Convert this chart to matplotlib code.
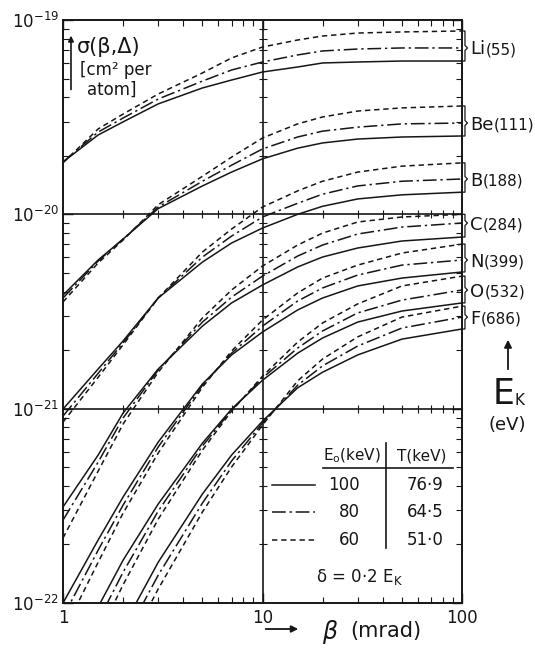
import matplotlib
matplotlib.use("Agg")
import matplotlib.pyplot as plt
from matplotlib.ticker import LogLocator, FixedLocator, FixedFormatter, NullFormatter, LogFormatterSciNotation

# ---------------- data ----------------
beta = [1, 1.5, 2, 3, 5, 7, 10, 15, 20, 30, 50, 100]          # mrad

elements = ["Li", "Be", "B", "C", "N", "O", "F"]
edge_ev = [55, 111, 188, 284, 399, 532, 686]

e0_kev = ["100", "80", "60"]
t_kev = ["76·9", "64·5", "51·0"]

# sigma(beta, Delta) in cm^2 per atom; suffix = incident energy E0 (keV)
li_100 = [1.86e-20, 2.56e-20, 2.99e-20, 3.70e-20, 4.47e-20, 4.91e-20, 5.40e-20, 5.73e-20, 6.01e-20, 6.08e-20, 6.15e-20, 6.15e-20]
li_80 = [1.86e-20, 2.65e-20, 3.13e-20, 3.92e-20, 4.85e-20, 5.53e-20, 6.08e-20, 6.61e-20, 6.93e-20, 7.09e-20, 7.18e-20, 7.18e-20]
li_60 = [1.84e-20, 2.75e-20, 3.28e-20, 4.16e-20, 5.34e-20, 6.38e-20, 7.26e-20, 7.89e-20, 8.27e-20, 8.57e-20, 8.68e-20, 8.78e-20]

be_100 = [3.84e-21, 5.82e-21, 7.46e-21, 1.07e-20, 1.40e-20, 1.65e-20, 1.93e-20, 2.19e-20, 2.33e-20, 2.44e-20, 2.50e-20, 2.53e-20]
be_80 = [3.71e-21, 5.75e-21, 7.46e-21, 1.09e-20, 1.48e-20, 1.79e-20, 2.17e-20, 2.50e-20, 2.68e-20, 2.81e-20, 2.92e-20, 2.95e-20]
be_60 = [3.54e-21, 5.62e-21, 7.37e-21, 1.12e-20, 1.57e-20, 1.97e-20, 2.47e-20, 2.92e-20, 3.17e-20, 3.40e-20, 3.53e-20, 3.61e-20]

b_100 = [9.95e-22, 1.60e-21, 2.23e-21, 3.71e-21, 5.68e-21, 7.12e-21, 8.50e-21, 1.00e-20, 1.10e-20, 1.20e-20, 1.26e-20, 1.30e-20]
b_80 = [9.16e-22, 1.52e-21, 2.18e-21, 3.71e-21, 6.03e-21, 7.73e-21, 9.69e-21, 1.14e-20, 1.27e-20, 1.40e-20, 1.48e-20, 1.52e-20]
b_60 = [8.53e-22, 1.45e-21, 2.13e-21, 3.71e-21, 6.40e-21, 8.40e-21, 1.09e-20, 1.32e-20, 1.48e-20, 1.65e-20, 1.77e-20, 1.84e-20]

c_100 = [3.12e-22, 5.77e-22, 9.49e-22, 1.60e-21, 2.66e-21, 3.50e-21, 4.33e-21, 5.36e-21, 6.03e-21, 6.71e-21, 7.29e-21, 7.64e-21]
c_80 = [2.67e-22, 5.31e-22, 8.95e-22, 1.58e-21, 2.79e-21, 3.75e-21, 4.81e-21, 6.10e-21, 6.95e-21, 7.92e-21, 8.60e-21, 9.02e-21]
c_60 = [2.16e-22, 4.77e-22, 8.33e-22, 1.54e-21, 2.93e-21, 4.08e-21, 5.42e-21, 6.95e-21, 8.01e-21, 9.13e-21, 9.69e-21, 1.00e-20]

n_100 = [1.00e-22, 2.11e-22, 3.51e-22, 6.73e-22, 1.34e-21, 1.89e-21, 2.48e-21, 3.22e-21, 3.71e-21, 4.28e-21, 4.70e-21, 5.05e-21]
n_80 = [8.47e-23, 1.87e-22, 3.19e-22, 6.35e-22, 1.32e-21, 1.93e-21, 2.66e-21, 3.58e-21, 4.18e-21, 4.87e-21, 5.48e-21, 5.82e-21]
n_60 = [7.01e-23, 1.62e-22, 2.90e-22, 5.91e-22, 1.29e-21, 1.98e-21, 2.86e-21, 3.94e-21, 4.70e-21, 5.48e-21, 6.32e-21, 7.03e-21]

o_100 = [4.02e-23, 9.54e-23, 1.66e-22, 3.23e-22, 6.65e-22, 9.95e-22, 1.40e-21, 1.93e-21, 2.31e-21, 2.79e-21, 3.18e-21, 3.50e-21]
o_80 = [3.40e-23, 8.08e-23, 1.44e-22, 2.97e-22, 6.42e-22, 9.84e-22, 1.44e-21, 2.05e-21, 2.51e-21, 3.11e-21, 3.62e-21, 4.08e-21]
o_60 = [2.75e-23, 6.76e-23, 1.24e-22, 2.70e-22, 6.12e-22, 9.72e-22, 1.47e-21, 2.20e-21, 2.76e-21, 3.46e-21, 4.28e-21, 4.81e-21]

f_100 = [1.52e-23, 3.92e-23, 7.52e-23, 1.62e-22, 3.64e-22, 5.77e-22, 8.63e-22, 1.28e-21, 1.54e-21, 1.89e-21, 2.28e-21, 2.57e-21]
f_80 = [1.26e-23, 3.28e-23, 6.38e-23, 1.39e-22, 3.27e-22, 5.38e-22, 8.43e-22, 1.32e-21, 1.66e-21, 2.10e-21, 2.60e-21, 2.96e-21]
f_60 = [1.03e-23, 2.72e-23, 5.34e-23, 1.18e-22, 2.94e-22, 5.01e-22, 8.23e-22, 1.39e-21, 1.80e-21, 2.34e-21, 2.96e-21, 3.37e-21]

series = {
    "Li": (li_100, li_80, li_60),
    "Be": (be_100, be_80, be_60),
    "B": (b_100, b_80, b_60),
    "C": (c_100, c_80, c_60),
    "N": (n_100, n_80, n_60),
    "O": (o_100, o_80, o_60),
    "F": (f_100, f_80, f_60),
}

# ---------------- style ----------------
ink = "#161616"
plt.rcParams["font.family"] = ["DejaVu Sans"]
styles = ["-", (0, (9, 2.5, 1.5, 2.5)), (0, (3.5, 2.5))]
LW = 1.1

fig = plt.figure(figsize=(5.35, 6.49), dpi=100)
fig.patch.set_facecolor("white")
ax = fig.add_axes([63 / 535, 1 - 603 / 649, 399 / 535, 583 / 649])
ax.set_xscale("log")
ax.set_yscale("log")
ax.set_xlim(1, 100)
ax.set_ylim(1e-22, 1e-19)

for el in elements:
    for vals, ls in zip(series[el], styles):
        ax.plot(beta, vals, color=ink, lw=LW, ls=ls,
                dash_capstyle="butt", solid_capstyle="butt",
                solid_joinstyle="round")

# internal grid lines
ax.axvline(10, color=ink, lw=1.2)
ax.axhline(1e-20, color=ink, lw=1.2)
ax.axhline(1e-21, color=ink, lw=1.2)

# ticks along the grid lines
xminor = [s * 10 ** k for k in (0, 1) for s in range(2, 10)]
yminor = [s * 10.0 ** k for k in (-22, -21, -20) for s in range(2, 10)]
for yy in (1e-20, 1e-21):
    ax.plot(xminor, [yy] * len(xminor), ls="none", marker="|", ms=6,
            mew=0.8, color=ink)
ax.plot([10] * len(yminor), yminor, ls="none", marker="_", ms=6,
        mew=0.8, color=ink)

for sp in ax.spines.values():
    sp.set_linewidth(1.4)
    sp.set_color(ink)

ax.xaxis.set_major_locator(FixedLocator([1, 10, 100]))
ax.xaxis.set_major_formatter(FixedFormatter(["1", "10", "100"]))
ax.xaxis.set_minor_locator(FixedLocator(xminor))
ax.xaxis.set_minor_formatter(NullFormatter())
ax.yaxis.set_major_locator(FixedLocator([1e-22, 1e-21, 1e-20, 1e-19]))
ax.yaxis.set_major_formatter(LogFormatterSciNotation())
ax.yaxis.set_minor_locator(FixedLocator(yminor))
ax.yaxis.set_minor_formatter(NullFormatter())
ax.tick_params(which="both", direction="in", top=True, right=True,
               colors=ink, labelsize=12)
ax.tick_params(which="major", length=7, width=1.0)
ax.tick_params(which="minor", length=4, width=0.8)
ax.tick_params(axis="y", pad=3)
ax.tick_params(axis="x", pad=4)

renderer = fig.canvas.get_renderer()

# ---------------- right-hand brackets and labels ----------------
for el, ev in zip(elements, edge_ev):
    s100, s80, s60 = series[el]
    top, mid, bot = s60[-1], s80[-1], s100[-1]
    bx = [100, 103.5, 103.5, 106.5, 103.5, 103.5, 100]
    by = [top, top, mid * 1.03, mid, mid / 1.03, bot, bot]
    ax.plot(bx, by, color=ink, lw=0.9, clip_on=False)
    t = ax.annotate(el, xy=(110, mid), xycoords="data", xytext=(0, -4.7),
                    textcoords="offset points", va="baseline", ha="left",
                    fontsize=13, color=ink, annotation_clip=False)
    w_pt = t.get_window_extent(renderer=renderer).width * 72 / fig.dpi
    ax.annotate(f"({ev})", xy=(110, mid), xycoords="data",
                xytext=(w_pt + 0.3, -4.7), textcoords="offset points",
                va="baseline", ha="left", fontsize=11, color=ink,
                annotation_clip=False)

# E_K (eV) with arrow
ax.annotate("", xy=(1.1153, 0.4563), xytext=(1.1153, 0.3962),
            xycoords="axes fraction", textcoords="axes fraction",
            arrowprops=dict(arrowstyle="-|>", color=ink, lw=1.3,
                            mutation_scale=11), annotation_clip=False)
te = ax.text(1.0777, 0.3585, "E", transform=ax.transAxes, fontsize=25,
             va="center", ha="left", color=ink)
ax.annotate("K", xy=(1, 0.08), xycoords=te, va="bottom", ha="left",
            fontsize=11, color=ink)
ax.text(1.1128, 0.3053, "(eV)", transform=ax.transAxes, fontsize=13,
        va="center", ha="center", color=ink)

# y label (top-left)
ax.annotate("", xy=(0.020, 0.978), xytext=(0.020, 0.876),
            xycoords="axes fraction", textcoords="axes fraction",
            arrowprops=dict(arrowstyle="-|>", color=ink, lw=1.2,
                            mutation_scale=8))
ax.text(0.036, 0.9537, "σ(β,Δ)", transform=ax.transAxes, fontsize=15,
        va="center", ha="left", color=ink)
ax.text(0.042, 0.9143, "[cm² per", transform=ax.transAxes, fontsize=12,
        va="center", ha="left", color=ink)
ax.text(0.060, 0.8799, "atom]", transform=ax.transAxes, fontsize=12,
        va="center", ha="left", color=ink)

# x label (bottom)
ax.annotate("", xy=(0.5965, -0.0446), xytext=(0.501, -0.0446),
            xycoords="axes fraction", textcoords="axes fraction",
            arrowprops=dict(arrowstyle="-|>", color=ink, lw=1.3,
                            mutation_scale=10), annotation_clip=False)
ax.text(0.649, -0.0497, "β", transform=ax.transAxes, fontsize=17,
        style="italic", va="center", ha="left", color=ink)
ax.text(0.719, -0.0480, "(mrad)", transform=ax.transAxes, fontsize=15,
        va="center", ha="left", color=ink)

# ---------------- legend table ----------------
ax.text(0.724, 0.252, r"E$_\mathrm{o}$(keV)", transform=ax.transAxes,
        fontsize=11, ha="center", va="center", color=ink)
ax.text(0.900, 0.252, "T(keV)", transform=ax.transAxes,
        fontsize=11, ha="center", va="center", color=ink)
ax.plot([0.652, 0.977], [0.2316, 0.2316], transform=ax.transAxes,
        color=ink, lw=1.2)
ax.plot([0.8095, 0.8095], [0.0943, 0.2744], transform=ax.transAxes,
        color=ink, lw=1.2)
row_y = [0.2024, 0.156, 0.108]
for ry, ls, e0, tk in zip(row_y, styles, e0_kev, t_kev):
    ax.plot([0.524, 0.632], [ry, ry], transform=ax.transAxes, color=ink,
            lw=LW, ls=ls, dash_capstyle="butt")
    ax.text(0.743, ry, e0, transform=ax.transAxes, fontsize=12,
            ha="right", va="center", color=ink)
    ax.text(0.907, ry, tk, transform=ax.transAxes, fontsize=12,
            ha="center", va="center", color=ink)
ax.text(0.742, 0.0446, r"δ = 0·2 E$_\mathrm{K}$", transform=ax.transAxes,
        fontsize=12, ha="center", va="center", color=ink)

fig.savefig("out.png", dpi=100, facecolor="white")
